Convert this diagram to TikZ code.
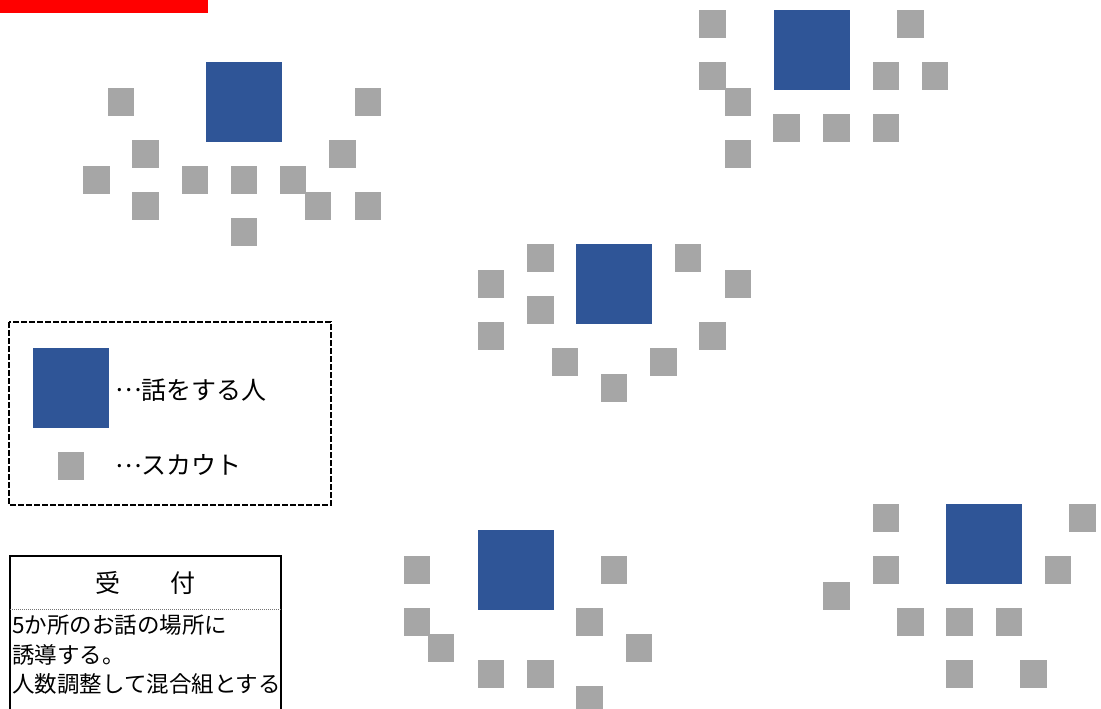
\documentclass[tikz,border=0pt]{standalone}
\usepackage{fontspec}
\usepackage{tikz}
\usepackage{xcolor}
\newfontfamily\jp{Noto Sans CJK JP}
\newcommand{\midell}{\makebox[1em][c]{\raisebox{0.3em}{…}}}
\definecolor{speakerblue}{HTML}{2F5597}
\definecolor{scoutgray}{HTML}{A6A6A6}

\begin{document}
\begin{tikzpicture}[x=1pt,y=-1pt,scout/.style={fill=scoutgray},speaker/.style={fill=speakerblue},
  legendtxt/.style={anchor=west,inner sep=0pt,font=\jp\fontsize{25}{30}\selectfont},
  boxtxt/.style={anchor=west,inner sep=0pt,font=\jp\fontsize{22.5}{29}\selectfont}]
\useasboundingbox (0,0) rectangle (1101,709);
\clip (0,0) rectangle (1101,709);
\fill[red] (0,0) rectangle (208,13);
\fill[speaker] (206,62) rectangle (282,142);
\fill[scout] (108,88) rectangle ++(26,28);\fill[scout] (355,88) rectangle ++(26,28);
\fill[scout] (132,140) rectangle ++(27,28);\fill[scout] (329,140) rectangle ++(27,28);
\fill[scout] (83,166) rectangle ++(27,28);\fill[scout] (182,166) rectangle ++(26,28);
\fill[scout] (231,166) rectangle ++(26,28);\fill[scout] (280,166) rectangle ++(26,28);
\fill[scout] (132,192) rectangle ++(27,28);\fill[scout] (305,192) rectangle ++(26,28);
\fill[scout] (355,192) rectangle ++(26,28);\fill[scout] (231,218) rectangle ++(26,28);
\fill[speaker] (774,10) rectangle (850,90);
\fill[scout] (699,10) rectangle ++(27,28);\fill[scout] (897,10) rectangle ++(27,28);
\fill[scout] (699,62) rectangle ++(27,28);\fill[scout] (873,62) rectangle ++(26,28);
\fill[scout] (922,62) rectangle ++(26,28);\fill[scout] (725,88) rectangle ++(26,28);
\fill[scout] (773,114) rectangle ++(27,28);\fill[scout] (823,114) rectangle ++(27,28);
\fill[scout] (873,114) rectangle ++(26,28);\fill[scout] (725,140) rectangle ++(26,28);
\fill[speaker] (576,244) rectangle (652,324);
\fill[scout] (527,244) rectangle ++(27,28);\fill[scout] (675,244) rectangle ++(26,28);
\fill[scout] (478,270) rectangle ++(26,28);\fill[scout] (725,270) rectangle ++(26,28);
\fill[scout] (527,296) rectangle ++(27,28);\fill[scout] (478,322) rectangle ++(26,28);
\fill[scout] (699,322) rectangle ++(27,28);\fill[scout] (552,348) rectangle ++(26,28);
\fill[scout] (650,348) rectangle ++(27,28);\fill[scout] (601,374) rectangle ++(26,28);
\fill[speaker] (478,530) rectangle (554,610);
\fill[scout] (404,556) rectangle ++(26,28);\fill[scout] (601,556) rectangle ++(26,28);
\fill[scout] (404,608) rectangle ++(26,28);\fill[scout] (576,608) rectangle ++(27,28);
\fill[scout] (428,634) rectangle ++(26,28);\fill[scout] (626,634) rectangle ++(26,28);
\fill[scout] (478,660) rectangle ++(26,28);\fill[scout] (527,660) rectangle ++(27,28);
\fill[scout] (576,686) rectangle ++(27,28);
\fill[speaker] (946,504) rectangle (1022,584);
\fill[scout] (873,504) rectangle ++(26,28);\fill[scout] (1069,504) rectangle ++(27,28);
\fill[scout] (873,556) rectangle ++(26,28);\fill[scout] (1045,556) rectangle ++(26,28);
\fill[scout] (823,582) rectangle ++(27,28);\fill[scout] (897,608) rectangle ++(27,28);
\fill[scout] (946,608) rectangle ++(27,28);\fill[scout] (996,608) rectangle ++(26,28);
\fill[scout] (946,660) rectangle ++(27,28);\fill[scout] (1020,660) rectangle ++(27,28);
\draw[line width=1.8pt,dash pattern=on 6pt off 2pt] (9,322) rectangle (331,505);
\fill[speaker] (33,348) rectangle (109,428);
\fill[scout] (58,452) rectangle ++(26,28);
\node[legendtxt] (speakertxt) at (116,390) {\midell 話をする人};
\node[legendtxt] (scouttxt) at (116,465) {\midell スカウト};
\draw[line width=2pt] (10,715) -- (10,556) -- (281,556) -- (281,715);
\draw[scoutgray!70!black,densely dotted,line width=1pt] (10,609) -- (281,609);
\node[inner sep=0pt,font=\jp\fontsize{25}{30}\selectfont] (uketsuke) at (145.5,583) {受　　付};
\node[boxtxt] (line1) at (12,625) {5か所のお話の場所に};
\node[boxtxt] (line2) at (12,655) {誘導する。};
\node[boxtxt] (line3) at (12,684) {人数調整して混合組とする};
\end{tikzpicture}
\end{document}
